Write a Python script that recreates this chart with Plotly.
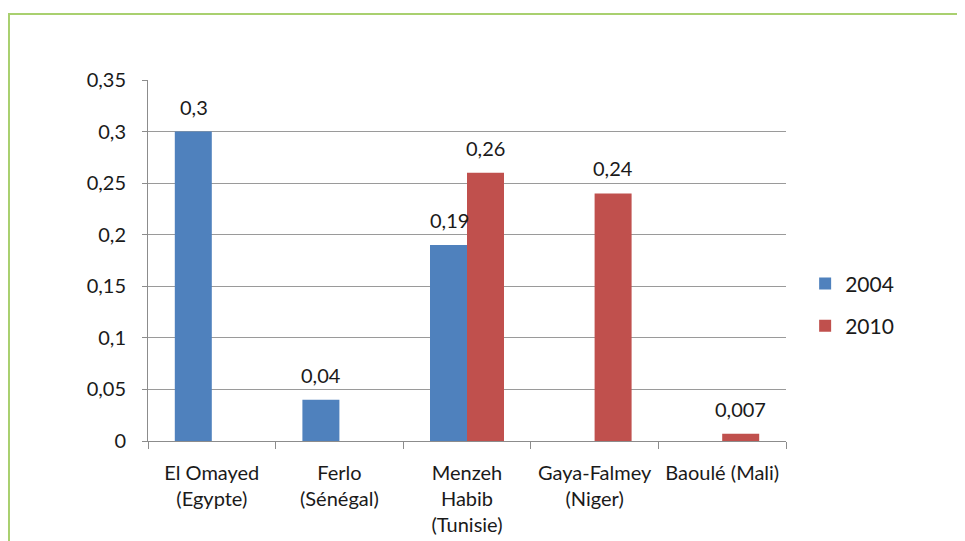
import plotly.graph_objects as go

categories = ["El Omayed<br>(Egypte)", "Ferlo<br>(Sénégal)", "Menzeh<br>Habib<br>(Tunisie)",
              "Gaya-Falmey<br>(Niger)", "Baoulé (Mali)"]
series_names = ["2004", "2010"]
values_2004 = [0.3, 0.04, 0.19, None, None]
values_2010 = [None, None, 0.26, 0.24, 0.007]
labels_2004 = ["0,3", "0,04", "0,19", "", ""]
labels_2010 = ["", "", "0,26", "0,24", "0,007"]
y_tickvals = [0, 0.05, 0.1, 0.15, 0.2, 0.25, 0.3, 0.35]
y_ticktext = ["0", "0,05", "0,1", "0,15", "0,2", "0,25", "0,3", "0,35"]

colors = ["#4F81BD", "#C0504D"]
FONT = "Lato"
TXT = "#1a1a1a"
FS = 20

fig = go.Figure()
fig.add_trace(go.Bar(x=categories, y=values_2004, name=series_names[0],
                     marker=dict(color=colors[0], line=dict(width=0)), legendgroup="a"))
fig.add_trace(go.Bar(x=categories, y=values_2010, name=series_names[1],
                     marker=dict(color=colors[1], line=dict(width=0)), legendgroup="b"))

annotations = []
for vals, labs, shift in [(values_2004, labels_2004, -18), (values_2010, labels_2010, 18)]:
    for c, v, t in zip(categories, vals, labs):
        if v is None:
            continue
        annotations.append(dict(x=c, y=v, text=t, showarrow=False, xshift=shift, yshift=25,
                                font=dict(family=FONT, size=FS, color=TXT)))

fig.update_layout(
    width=949, height=533,
    margin=dict(l=140, r=171, t=72, b=100, autoexpand=False),
    paper_bgcolor="white", plot_bgcolor="white",
    barmode="group", bargap=0.42, bargroupgap=0,
    font=dict(family=FONT, size=FS, color=TXT),
    showlegend=True,
    legend=dict(x=1.03, y=0.377, yanchor="middle", xanchor="left",
                font=dict(family=FONT, size=21, color=TXT), tracegroupgap=12,
                itemwidth=30, bgcolor="rgba(0,0,0,0)"),
    annotations=annotations,
    shapes=[dict(type="rect", xref="paper", yref="paper", x0=-0.2179, x1=1.45,
                 y0=-0.5, y1=1.1828, line=dict(color="#A9D06F", width=2), layer="below")],
)
fig.update_yaxes(range=[0, 0.35], tickvals=y_tickvals, ticktext=y_ticktext,
                 showgrid=True, gridcolor="#9a9a9a", gridwidth=1,
                 showline=True, linecolor="#8c8c8c", linewidth=1,
                 ticks="outside", ticklen=5, tickcolor="#8c8c8c",
                 ticklabelstandoff=12, zeroline=False, automargin=False,
                 tickfont=dict(family=FONT, size=FS, color=TXT))
fig.update_xaxes(showline=True, linecolor="#8c8c8c", linewidth=1,
                 ticks="outside", tickson="boundaries", ticklen=7, tickcolor="#8c8c8c",
                 automargin=False,
                 tickfont=dict(family=FONT, size=FS, color=TXT), ticklabelstandoff=14)

fig.write_html("out.html")
